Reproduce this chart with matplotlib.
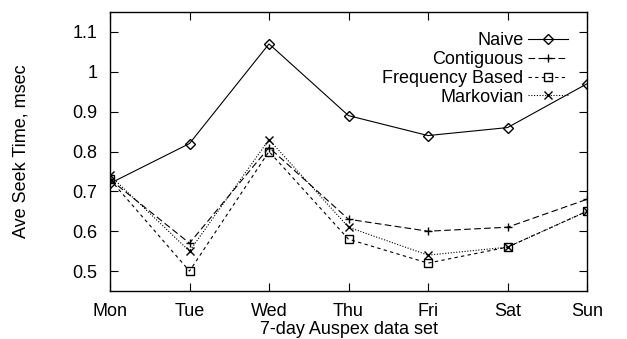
import matplotlib
matplotlib.use("Agg")
import matplotlib.pyplot as plt
from matplotlib.ticker import FuncFormatter

plt.rcParams["font.family"] = ["Liberation Sans", "DejaVu Sans"]
plt.rcParams["font.size"] = 13

days = ["Mon", "Tue", "Wed", "Thu", "Fri", "Sat", "Sun"]
naive = [0.72, 0.82, 1.07, 0.89, 0.84, 0.86, 0.97]
contiguous = [0.73, 0.57, 0.81, 0.63, 0.60, 0.61, 0.68]
frequency = [0.73, 0.50, 0.80, 0.58, 0.52, 0.56, 0.65]
markovian = [0.74, 0.55, 0.83, 0.61, 0.54, 0.56, 0.65]
yticks = [0.5, 0.6, 0.7, 0.8, 0.9, 1.0, 1.1]

fig = plt.figure(figsize=(6.27, 3.39), dpi=100)
ax = fig.add_axes([110 / 627, 1 - 291 / 339, 477 / 627, 279 / 339])

x = list(range(len(days)))
kw = dict(color="black", linewidth=0.8, markersize=6, markerfacecolor="none")
ax.plot(x, naive, linestyle="-", marker="D", label="Naive",
        **{**kw, "markersize": 5})
ax.plot(x, contiguous, linestyle=(0, (6, 3)), marker="+", label="Contiguous", **kw)
ax.plot(x, frequency, linestyle=(0, (3, 3)), marker="s", label="Frequency Based", **kw)
ax.plot(x, markovian, linestyle=(0, (1, 1.5)), marker="x", label="Markovian", **kw)

ax.set_xlim(0, 6)
ax.set_ylim(0.45, 1.15)
ax.set_xticks(x)
ax.set_xticklabels(days)
ax.set_yticks(yticks)
ax.yaxis.set_major_formatter(FuncFormatter(lambda v, p: f"{v:g}"))
ax.tick_params(direction="in", top=True, right=True, length=6, width=0.8,
               labelsize=13, pad=9)
for s in ax.spines.values():
    s.set_linewidth(1.0)

ax.set_xlabel("7-day Auspex data set", fontsize=13, labelpad=0)
ax.set_ylabel("Ave Seek Time, msec", fontsize=13, labelpad=31)

ax.legend(loc="upper right", frameon=False, markerfirst=False, fontsize=13,
          handlelength=2.2, labelspacing=0.1, borderaxespad=0,
          handletextpad=0.25, bbox_to_anchor=(0.975, 0.953))

fig.savefig("out.png", dpi=100)
